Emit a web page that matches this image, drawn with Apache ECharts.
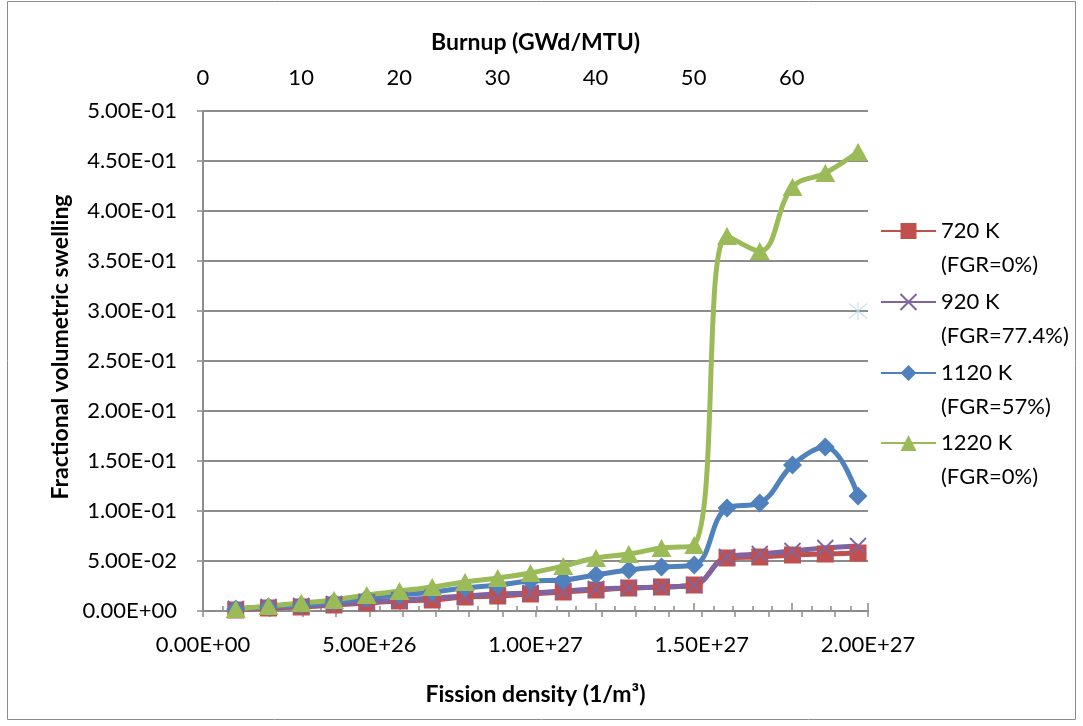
<!DOCTYPE html>
<html lang="en">
<head>
  <meta charset="UTF-8">
  <title>swelling</title>
  <style>
    html, body, #chart {
      margin: 0;
      padding: 0;
      width: 100%;
      height: 100%;
      background: #fff;
    }
  </style>
</head>
<body>
<div id="chart"></div>

<script src="https://cdn.jsdelivr.net/npm/echarts@6/dist/echarts.min.js"></script>
<script>
  // fission density at each calculation step (1/m3)
  var fissionDensity = [0.985e26, 1.97e26, 2.955e26, 3.94e26, 4.925e26, 5.91e26, 6.895e26, 7.88e26, 8.865e26, 9.85e26,
    1.0835e27, 1.182e27, 1.2805e27, 1.379e27, 1.4775e27, 1.576e27, 1.6745e27, 1.773e27, 1.8715e27, 1.97e27];

  // fractional volumetric swelling
  var sw720 = [0.001, 0.003, 0.004, 0.006, 0.008, 0.010, 0.011, 0.014, 0.015, 0.017,
    0.019, 0.021, 0.023, 0.024, 0.026, 0.053, 0.054, 0.056, 0.057, 0.058];
  var sw920 = [0.002, 0.004, 0.005, 0.007, 0.009, 0.011, 0.013, 0.015, 0.017, 0.018,
    0.020, 0.022, 0.023, 0.024, 0.026, 0.054, 0.057, 0.060, 0.063, 0.065];
  var sw1120 = [0.002, 0.004, 0.006, 0.009, 0.013, 0.016, 0.019, 0.023, 0.026, 0.030,
    0.031, 0.036, 0.041, 0.044, 0.046, 0.103, 0.108, 0.146, 0.164, 0.115];
  var sw1220 = [0.002, 0.005, 0.008, 0.011, 0.016, 0.020, 0.024, 0.029, 0.033, 0.038,
    0.045, 0.053, 0.057, 0.063, 0.066, 0.375, 0.360, 0.424, 0.438, 0.459];
  // lone point with no legend entry
  var strayPoint = [[1.97e27, 0.30]];

  var seriesNames = ['720 K', '920 K', '1120 K', '1220 K'];
  var seriesNotes = ['(FGR=0%)', '(FGR=77.4%)', '(FGR=57%)', '(FGR=0%)'];

  var burnupMax = 67.77;   // GWd/MTU at 2.00E+27 fissions/m3

  var FONT = 'Lato';
  var GRAY = '#8c8c8c';

  function sci(v) {
    var s = Number(v).toExponential(2).toUpperCase();
    var p = s.split('E');
    var e = parseInt(p[1], 10);
    var sign = e < 0 ? '-' : '+';
    e = Math.abs(e);
    return p[0] + 'E' + sign + (e < 10 ? '0' + e : e);
  }

  function pairs(ys) {
    return ys.map(function (y, i) { return [fissionDensity[i], y]; });
  }

  var chart = echarts.init(document.getElementById('chart'));

  var xMark = 'path://M0,0L10,10M10,0L0,10';
  var starMark = 'path://M0,0L10,10M10,0L0,10M5,-1L5,11';

  var lineBase = {
    type: 'line',
    smooth: 0.4,
    xAxisIndex: 0,
    yAxisIndex: 0
  };

  var titleStyle = {fontFamily: FONT, fontSize: 23, fontWeight: 'bold', color: '#000'};
  var labelStyle = {fontFamily: FONT, fontSize: 22, color: '#000'};

  // one legend per entry; text is three lines (blank, name, note) so the
  // name line sits level with the symbol
  var legends = seriesNames.map(function (name, i) {
    var centers = [231, 302, 373, 443];
    return {
      data: [name],
      left: 880,
      top: centers[i] - 51,
      padding: 0,
      itemWidth: 55,
      itemHeight: 20,
      formatter: function (n) { return ' \n' + n + '\n' + seriesNotes[seriesNames.indexOf(n)]; },
      textStyle: {
        fontFamily: FONT,
        fontSize: 22,
        lineHeight: 34,
        color: '#000'
      }
    };
  });

  var option = {
    animation: false,
    backgroundColor: '#fff',
    grid: {left: 203, right: 215, top: 111, bottom: 115},
    legend: legends,
    graphic: [{
      type: 'rect',
      shape: {x: 7.5, y: 1.5, width: 1068, height: 718},
      style: {fill: 'none', stroke: GRAY, lineWidth: 1}
    }],
    xAxis: [{
      type: 'value',
      position: 'bottom',
      min: 0,
      max: 2e27,
      interval: 5e26,
      name: 'Fission density (1/m³)',
      nameLocation: 'middle',
      nameGap: 72,
      nameTextStyle: titleStyle,
      axisLine: {lineStyle: {color: GRAY, width: 2}},
      axisTick: {length: 6, lineStyle: {color: GRAY, width: 1.5}},
      minorTick: {show: true, splitNumber: 5, length: 6, lineStyle: {color: GRAY, width: 1.5}},
      splitLine: {show: false},
      axisLabel: Object.assign({margin: 23, formatter: sci}, labelStyle)
    }, {
      type: 'value',
      position: 'top',
      min: 0,
      max: burnupMax,
      interval: 10,
      name: 'Burnup (GWd/MTU)',
      nameLocation: 'middle',
      nameGap: 57,
      nameTextStyle: titleStyle,
      axisLine: {lineStyle: {color: GRAY, width: 2}},
      axisTick: {length: 8, lineStyle: {color: GRAY, width: 1.5}},
      minorTick: {show: true, splitNumber: 5, length: 5, lineStyle: {color: GRAY, width: 1.5}},
      splitLine: {show: false},
      axisLabel: Object.assign({
        margin: 22,
        showMaxLabel: false,
        formatter: function (v) {
          var r = Math.round(v / 10) * 10;
          return Math.abs(v - r) < 1e-6 ? String(r) : '';
        }
      }, labelStyle)
    }],
    yAxis: [{
      type: 'value',
      min: 0,
      max: 0.5,
      interval: 0.05,
      name: 'Fractional volumetric swelling',
      nameLocation: 'middle',
      nameGap: 121,
      nameTextStyle: Object.assign({padding: [0, 0, 0, 28]}, titleStyle),
      axisLine: {show: true, lineStyle: {color: GRAY, width: 2}},
      axisTick: {show: true, length: 6, lineStyle: {color: GRAY, width: 1.5}},
      splitLine: {lineStyle: {color: GRAY, width: 2}},
      axisLabel: Object.assign({margin: 26, formatter: sci}, labelStyle)
    }, {
      // inner half of the crossing ticks
      type: 'value',
      min: 0,
      max: 0.5,
      interval: 0.05,
      position: 'left',
      axisLine: {show: false},
      axisTick: {show: true, inside: true, length: 6, lineStyle: {color: GRAY, width: 1.5}},
      splitLine: {show: false},
      axisLabel: {show: false}
    }],
    series: [
      Object.assign({}, lineBase, {
        name: seriesNames[0],
        data: pairs(sw720),
        symbol: 'rect',
        symbolSize: 17,
        lineStyle: {color: '#C0504D', width: 5},
        itemStyle: {color: '#C0504D'}
      }),
      Object.assign({}, lineBase, {
        name: seriesNames[1],
        data: pairs(sw920),
        symbol: xMark,
        symbolSize: 16,
        lineStyle: {color: '#8064A2', width: 5},
        itemStyle: {color: '#8064A2', borderColor: '#8064A2', borderWidth: 1.8}
      }),
      Object.assign({}, lineBase, {
        name: seriesNames[2],
        data: pairs(sw1120),
        symbol: 'diamond',
        symbolSize: 19,
        lineStyle: {color: '#4F81BD', width: 5},
        itemStyle: {color: '#4F81BD'}
      }),
      Object.assign({}, lineBase, {
        name: seriesNames[3],
        data: pairs(sw1220),
        symbol: 'triangle',
        symbolSize: [20, 18],
        lineStyle: {color: '#9BBB59', width: 5},
        itemStyle: {color: '#9BBB59'}
      }),
      {
        type: 'scatter',
        name: 'stray',
        data: strayPoint,
        symbol: starMark,
        symbolSize: 18,
        itemStyle: {color: '#b7dcea', borderColor: '#b7dcea', borderWidth: 1.2}
      }
    ]
  };

  chart.setOption(option);
</script>
</body>
</html>
